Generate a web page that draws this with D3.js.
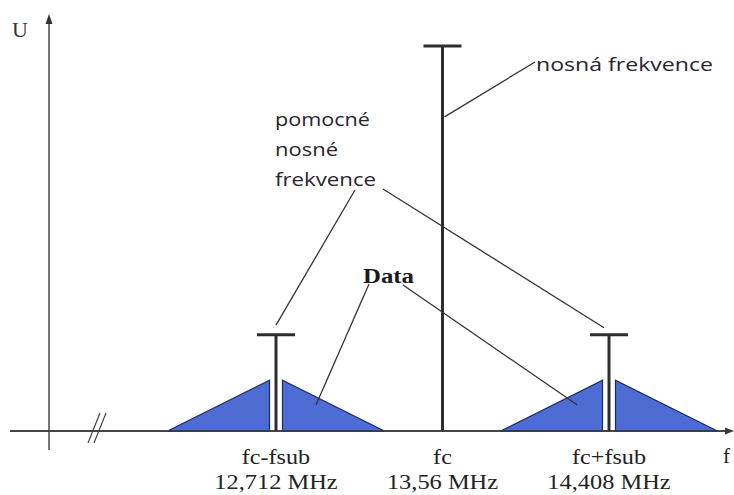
<!DOCTYPE html>
<html>
<head>
<meta charset="utf-8">
<script src="https://cdn.jsdelivr.net/npm/d3@7/dist/d3.min.js"></script>
<style>
  html, body { margin: 0; padding: 0; background: #ffffff; }
  svg { display: block; }
</style>
</head>
<body>
<svg id="chart" width="734" height="495"></svg>
<script>
// ---- data ----
const categories   = ["fc-fsub", "fc", "fc+fsub"];
const freqLabels   = ["12,712 MHz", "13,56 MHz", "14,408 MHz"];
const freqs        = [12.712, 13.56, 14.408];      // MHz
const stemAmp      = [0.25, 1.0, 0.25];            // relative amplitude of carrier / subcarriers
const sidebandPeak = [0.132, 0, 0.132];            // data sideband peak amplitude
const sidebandHalfWidth = 0.552;                   // MHz
const sidebandGap = 0.033;                         // MHz, gap around subcarrier line
const axisLabels = ["U", "f"];
const carrierText = ["nosná frekvence"];
const subcarrierText = ["pomocné", "nosné", "frekvence"];
const dataText = ["Data"];

// ---- scales ----
const svg = d3.select("#chart");
const x = d3.scaleLinear().domain([freqs[0], freqs[2]]).range([276, 609]);
const y = d3.scaleLinear().domain([0, 1]).range([431, 46]);

const dark = "#2e2e2e";
const axisCol = "#555";
const serif = "'Liberation Serif', 'Times New Roman', serif";
const sans = "'Open Sans', 'Noto Sans', sans-serif";

// ---- axes ----
const x0 = 49;
svg.append("line").attr("x1", 10).attr("x2", 728).attr("y1", y(0)).attr("y2", y(0))
  .attr("stroke", "#3a3a3a").attr("stroke-width", 1.5);
svg.append("path").attr("d", `M734,${y(0)} L725,${y(0)-3.5} L725,${y(0)+3.5} Z`).attr("fill", "#3a3a3a");
svg.append("line").attr("x1", x0).attr("x2", x0).attr("y1", 450).attr("y2", 22)
  .attr("stroke", axisCol).attr("stroke-width", 1.6);
svg.append("path").attr("d", `M${x0},14 L${x0-3.5},24 L${x0+3.5},24 Z`).attr("fill", "#333");

// axis break "//"
[0, 6].forEach(o => {
  svg.append("line").attr("x1", 88 + o).attr("y1", 443).attr("x2", 100 + o).attr("y2", 413)
    .attr("stroke", "#444").attr("stroke-width", 1.2);
});

// axis labels
svg.append("text").attr("x", 12).attr("y", 37).text(axisLabels[0])
  .attr("font-family", serif).attr("font-size", 22).attr("fill", "#333");
svg.append("text").attr("x", 723).attr("y", 463).text(axisLabels[1])
  .attr("font-family", serif).attr("font-size", 21).attr("fill", "#222");

// ---- sidebands (triangles) ----
const tri = [];
freqs.forEach((f, i) => {
  if (sidebandPeak[i] <= 0) return;
  tri.push([[f - sidebandHalfWidth, 0], [f - sidebandGap, sidebandPeak[i]], [f - sidebandGap, 0]]);
  tri.push([[f + sidebandGap, 0], [f + sidebandGap, sidebandPeak[i]], [f + sidebandHalfWidth, 0]]);
});
const line = d3.line().x(d => x(d[0])).y(d => y(d[1]));
svg.selectAll("path.tri").data(tri).join("path").attr("class", "tri")
  .attr("d", d => line(d) + "Z")
  .attr("fill", "#4c6cd3").attr("stroke", "#1c2a5e").attr("stroke-width", 1.2)
  .attr("stroke-linejoin", "miter");

// redraw baseline over the triangles' bottoms
svg.append("line").attr("x1", 10).attr("x2", 728).attr("y1", y(0)).attr("y2", y(0))
  .attr("stroke", "#3a3a3a").attr("stroke-width", 1.5);

// ---- stems with caps ----
svg.selectAll("line.stem").data(freqs).join("line").attr("class", "stem")
  .attr("x1", d => x(d)).attr("x2", d => x(d))
  .attr("y1", y(0)).attr("y2", (d, i) => y(stemAmp[i]))
  .attr("stroke", dark).attr("stroke-width", 3);
svg.selectAll("line.cap").data(freqs).join("line").attr("class", "cap")
  .attr("x1", d => x(d) - 19).attr("x2", d => x(d) + 19)
  .attr("y1", (d, i) => y(stemAmp[i])).attr("y2", (d, i) => y(stemAmp[i]))
  .attr("stroke", dark).attr("stroke-width", 3);

// ---- tick labels ----
function stretch(sel, k) {
  sel.each(function() {
    const w = this.getComputedTextLength();
    d3.select(this).attr("textLength", w * k).attr("lengthAdjust", "spacingAndGlyphs");
  });
}
svg.selectAll("text.cat").data(categories).join("text").attr("class", "cat")
  .attr("x", (d, i) => x(freqs[i])).attr("y", 464).attr("text-anchor", "middle")
  .attr("font-family", serif).attr("font-size", 21).attr("fill", "#222").text(d => d)
  .call(stretch, 1.15);
svg.selectAll("text.freq").data(freqLabels).join("text").attr("class", "freq")
  .attr("x", (d, i) => x(freqs[i])).attr("y", 489).attr("text-anchor", "middle")
  .attr("font-family", serif).attr("font-size", 20).attr("fill", "#222").text(d => d)
  .call(stretch, 1.22);

// ---- annotations ----
const leader = (x1, y1, x2, y2) => svg.append("line")
  .attr("x1", x1).attr("y1", y1).attr("x2", x2).attr("y2", y2)
  .attr("stroke", "#333").attr("stroke-width", 1.3);

// carrier
svg.append("text").attr("x", 536).attr("y", 71).text(carrierText[0])
  .attr("font-family", sans).attr("font-size", 18).attr("fill", "#2a2430")
  .attr("textLength", 177).attr("lengthAdjust", "spacingAndGlyphs");
leader(535, 62, x(freqs[1]) + 2, y(0.816));

// subcarriers
const subW = [95, 63, 101];
svg.selectAll("text.sub").data(subcarrierText).join("text").attr("class", "sub")
  .attr("x", 275).attr("y", (d, i) => 126 + i * 30).text(d => d)
  .attr("font-family", sans).attr("font-size", 19).attr("fill", "#2a2430")
  .attr("textLength", (d, i) => subW[i]).attr("lengthAdjust", "spacingAndGlyphs");
leader(355, 190, x(freqs[0]), y(0.275));
leader(383, 189, x(freqs[2]) - 5, y(0.268));

// data
svg.append("text").attr("x", 363).attr("y", 283).text(dataText[0])
  .attr("font-family", serif).attr("font-weight", "bold").attr("font-size", 20).attr("fill", "#1a1a1a")
  .attr("textLength", 51).attr("lengthAdjust", "spacingAndGlyphs");
leader(369, 284, x(12.916), y(0.068));
leader(403, 285, x(14.245), y(0.068));
</script>
</body>
</html>
